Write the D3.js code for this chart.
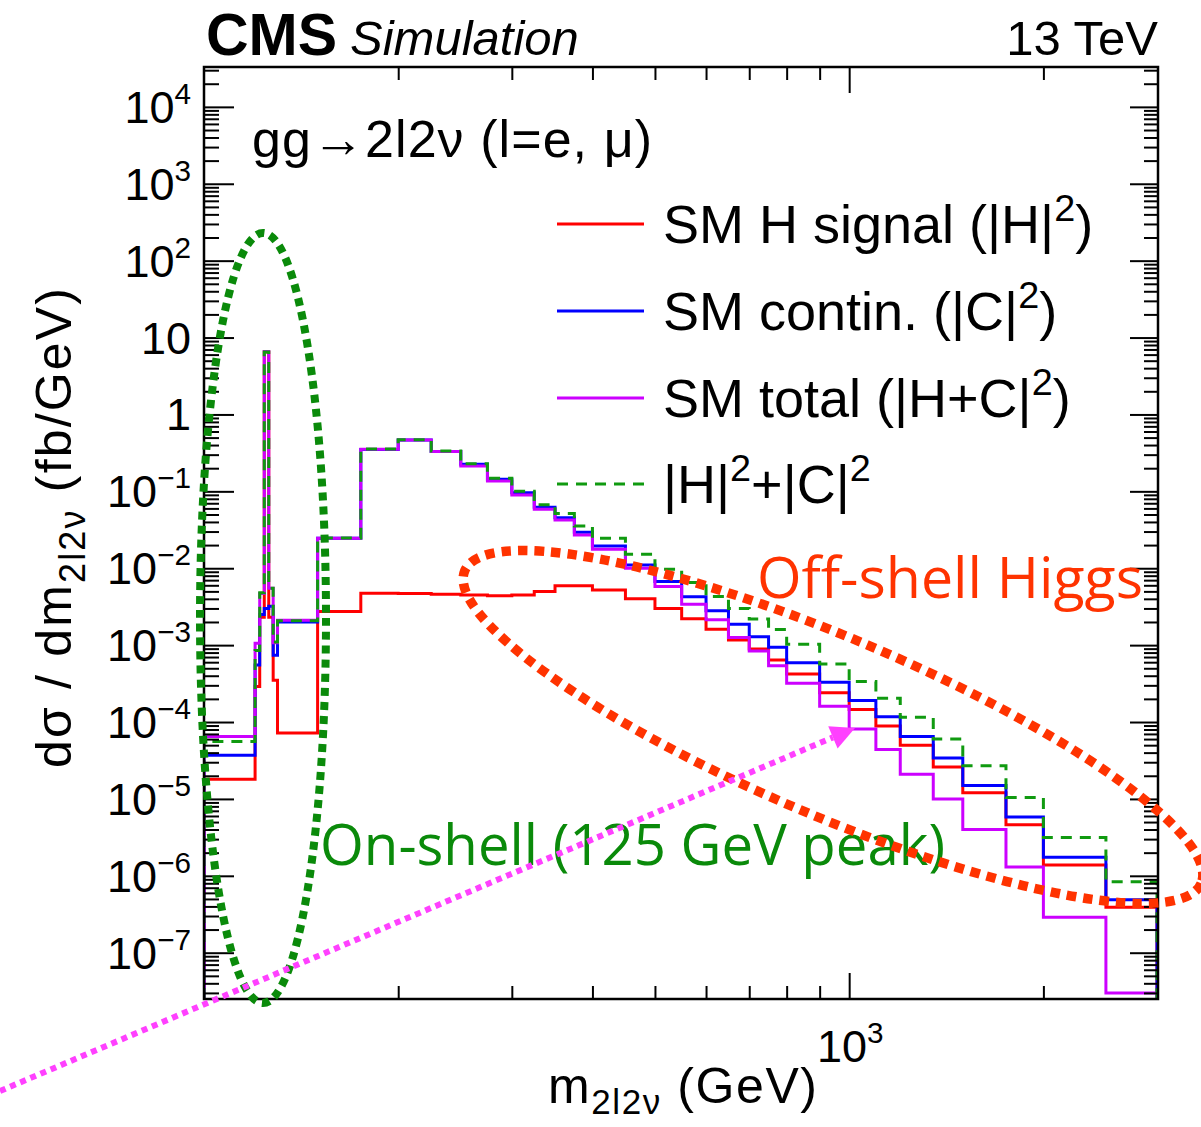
<!DOCTYPE html>
<html>
<head>
<meta charset="utf-8">
<script src="https://cdn.jsdelivr.net/npm/d3@7"></script>
<style>
  html, body { margin: 0; padding: 0; background: #fff; }
  svg text { font-family: "Liberation Sans", Arial, Helvetica, sans-serif; fill: #000; }
</style>
</head>
<body>
<svg id="chart" width="1201" height="1127"></svg>
<script>
// Bin edges of the m(2l2nu) histograms (GeV)
const binEdges = [100, 120, 122, 124, 126, 128, 130, 150, 175, 200, 225, 250, 275, 300, 325, 350, 375, 400,
  450, 500, 550, 600, 650, 700, 750, 800, 900, 1000, 1100, 1200, 1350, 1500, 1750, 2000, 2500, 3000];

// d(sigma)/dm per bin (fb/GeV)
const smSignal = [1.8e-5, 2.9e-4, 2.3e-3, 6.5, 2.3e-3, 3.5e-4, 7.2e-5, 2.74e-3, 4.73e-3, 4.7e-3, 4.6e-3,
  4.5e-3, 4.4e-3, 4.5e-3, 5.0e-3, 5.9e-3, 5.9e-3, 5.2e-3, 4.0e-3, 3.0e-3, 2.2e-3, 1.61e-3, 1.17e-3, 8.9e-4,
  6.4e-4, 4.2e-4, 2.4e-4, 1.45e-4, 8.9e-5, 5.0e-5, 2.6e-5, 1.2e-5, 4.6e-6, 1.38e-6, 3.9e-7];

const smContinuum = [3.7e-5, 5.5e-4, 2.5e-3, 3.0e-3, 3.2e-3, 7.4e-4, 2.0e-3, 2.45e-2, 0.35, 0.466, 0.33,
  0.225, 0.144, 0.096, 0.062, 0.0455, 0.0294, 1.94e-2, 1.1e-2, 6.7e-3, 4.27e-3, 2.79e-3, 1.87e-3, 1.29e-3,
  9.4e-4, 5.9e-4, 3.3e-4, 1.9e-4, 1.17e-4, 6.5e-5, 3.4e-5, 1.5e-5, 5.8e-6, 1.74e-6, 4.9e-7];

const smTotal = [6.5e-5, 1.06e-3, 4.7e-3, 6.6, 5.5e-3, 1.07e-3, 2.1e-3, 2.45e-2, 0.352, 0.466, 0.329,
  0.214, 0.136, 0.0897, 0.0585, 0.0425, 0.0271, 1.77e-2, 1.0e-2, 5.8e-3, 3.4e-3, 2.14e-3, 1.26e-3, 8.4e-4,
  5.4e-4, 3.2e-4, 1.6e-4, 8.1e-5, 4.4e-5, 2.1e-5, 1.0e-5, 4.0e-6, 1.3e-6, 2.9e-7, 3.0e-8];

const signalPlusContinuum = [5.6e-5, 8.5e-4, 4.8e-3, 6.5, 5.5e-3, 1.1e-3, 2.07e-3, 2.48e-2, 0.355, 0.47, 0.335,
  0.229, 0.148, 0.1005, 0.067, 0.0515, 0.0354, 2.45e-2, 1.52e-2, 9.7e-3, 6.5e-3, 4.3e-3, 3.0e-3, 2.18e-3,
  1.6e-3, 1.03e-3, 5.7e-4, 3.37e-4, 2.04e-4, 1.15e-4, 6.0e-5, 2.7e-5, 1.04e-5, 3.15e-6, 8.4e-7];

// Axis ticks
const yTickExponents = [4, 3, 2, 1, 0, -1, -2, -3, -4, -5, -6, -7];
const xMinorTicks = [200, 300, 400, 500, 600, 700, 800, 900, 2000];
const xMajorTicks = [1000];

// Legend entries, in drawing order
const legendLabels = [
  [["SM H signal (|H|"], ["2", "sup"], [")"]],
  [["SM contin. (|C|"], ["2", "sup"], [")"]],
  [["SM total (|H+C|"], ["2", "sup"], [")"]],
  [["|H|"], ["2", "sup"], ["+|C|"], ["2", "sup"]]
];

const seriesList = [
  { values: smSignal,            color: "#ff0000", dash: null },
  { values: smContinuum,         color: "#0000ff", dash: null },
  { values: smTotal,             color: "#cc00ff", dash: null },
  { values: signalPlusContinuum, color: "#109a10", dash: "11 8" }
];

const frame = { left: 204, right: 1158, top: 67, bottom: 999 };
const svg = d3.select("#chart");

const x = d3.scaleLog().domain([100, 3000]).range([frame.left, 1157]);
const y = d3.scaleLog().domain([2.5e-8, 3.3e4]).range([frame.bottom, frame.top]);

// rich text helper: parts = [[text], [text,"sup"], [text,"sub"]]
function richText(sel, parts, size, supScale = 0.62, supRaise = 0.42, subDrop = 0.28) {
  let shift = 0;
  parts.forEach(([t, kind]) => {
    const ts = sel.append("tspan").text(t);
    let target = 0;
    if (kind === "sup") { target = -supRaise * size; ts.attr("font-size", size * supScale); }
    else if (kind === "sub") { target = subDrop * size; ts.attr("font-size", size * supScale); }
    ts.attr("dy", target - shift);
    shift = target;
  });
  return sel;
}

// ---- histograms ----
svg.append("clipPath").attr("id", "plotClip").append("rect")
  .attr("x", frame.left).attr("y", frame.top)
  .attr("width", frame.right - frame.left).attr("height", frame.bottom - frame.top);

const line = d3.line().x(d => x(d[0])).y(d => y(d[1]));
const yFloor = y.domain()[0];

function stepPoints(vals) {
  const pts = [[binEdges[0], yFloor]];
  vals.forEach((v, i) => { pts.push([binEdges[i], v]); pts.push([binEdges[i + 1], v]); });
  pts.push([binEdges[binEdges.length - 1], yFloor]);
  return pts;
}

const histG = svg.append("g").attr("clip-path", "url(#plotClip)");
seriesList.forEach(s => {
  histG.append("path")
    .attr("d", line(stepPoints(s.values)))
    .attr("fill", "none")
    .attr("stroke", s.color)
    .attr("stroke-width", 3)
    .attr("stroke-dasharray", s.dash)
    .attr("stroke-linejoin", "miter");
});

// ---- frame and ticks ----
const yMajors = yTickExponents.map(e => Math.pow(10, e));
const yMinors = [];
for (let e = -8; e <= 4; e++) {
  for (let k = 2; k <= 9; k++) {
    const v = k * Math.pow(10, e);
    if (v >= y.domain()[0] && v <= y.domain()[1]) yMinors.push(v);
  }
}

function tickGroup(axis, tx, ty) {
  const g = svg.append("g").attr("transform", `translate(${tx},${ty})`).call(axis);
  g.select(".domain").remove();
  g.selectAll(".tick line").attr("stroke", "#000").attr("stroke-width", 2);
  g.selectAll(".tick text").remove();
  return g;
}

tickGroup(d3.axisLeft(y).tickValues(yMajors).tickSize(-30).tickFormat(""), frame.left, 0);
tickGroup(d3.axisLeft(y).tickValues(yMinors).tickSize(-15).tickFormat(""), frame.left, 0);
tickGroup(d3.axisRight(y).tickValues(yMajors).tickSize(-28).tickFormat(""), frame.right, 0);
tickGroup(d3.axisRight(y).tickValues(yMinors).tickSize(-14).tickFormat(""), frame.right, 0);
tickGroup(d3.axisBottom(x).tickValues(xMajorTicks).tickSize(-26).tickFormat(""), 0, frame.bottom);
tickGroup(d3.axisBottom(x).tickValues(xMinorTicks).tickSize(-13).tickFormat(""), 0, frame.bottom);
tickGroup(d3.axisTop(x).tickValues(xMajorTicks).tickSize(-26).tickFormat(""), 0, frame.top);
tickGroup(d3.axisTop(x).tickValues(xMinorTicks).tickSize(-13).tickFormat(""), 0, frame.top);

svg.append("rect")
  .attr("x", frame.left).attr("y", frame.top)
  .attr("width", frame.right - frame.left).attr("height", frame.bottom - frame.top)
  .attr("fill", "none").attr("stroke", "#000").attr("stroke-width", 2.5);

// y tick labels
const tickFont = 45;
yTickExponents.forEach(e => {
  const t = svg.append("text")
    .attr("x", 191).attr("y", y(Math.pow(10, e)) + 0.355 * tickFont)
    .attr("text-anchor", "end").attr("font-size", tickFont);
  if (e === 0) richText(t, [["1"]], tickFont);
  else if (e === 1) richText(t, [["10"]], tickFont);
  else richText(t, [["10"], [e < 0 ? "\u2212" + (-e) : String(e), "sup"]], tickFont, 0.66);
});

// x tick label (10^3)
xMajorTicks.forEach(v => {
  const t = svg.append("text")
    .attr("x", x(v) + 1).attr("y", 1062)
    .attr("text-anchor", "middle").attr("font-size", tickFont);
  richText(t, [["10"], [String(Math.round(Math.log10(v))), "sup"]], tickFont, 0.66);
});

// axis titles
const xTitle = svg.append("text").attr("x", 548).attr("y", 1103)
  .attr("font-size", 50)
  .attr("textLength", 269).attr("lengthAdjust", "spacing");
richText(xTitle, [["m"], ["2l2\u03bd", "sub"], [" (GeV)"]], 50, 0.7, 0.42, 0.22);

const yTitle = svg.append("text")
  .attr("transform", "translate(71,768) rotate(-90)")
  .attr("font-size", 50)
  .attr("textLength", 480).attr("lengthAdjust", "spacing");
richText(yTitle, [["d\u03c3 / dm"], ["2l2\u03bd", "sub"], [" (fb/GeV)"]], 50, 0.72);

// header
svg.append("text").attr("x", 206).attr("y", 55).attr("font-size", 59).attr("font-weight", "bold").text("CMS");
svg.append("text").attr("x", 350).attr("y", 55).attr("font-size", 49).attr("font-style", "italic").text("Simulation");
svg.append("text").attr("x", 1158).attr("y", 55).attr("font-size", 49).attr("text-anchor", "end").text("13 TeV");

// process label
svg.append("text").attr("x", 252).attr("y", 157).attr("font-size", 52)
  .attr("textLength", 400).attr("lengthAdjust", "spacing")
  .text("gg\u21922l2\u03bd (l=e, \u03bc)");

// legend
const legendRowY = [224, 311, 398, 484];
seriesList.forEach((s, i) => {
  svg.append("line")
    .attr("x1", 557).attr("x2", 644)
    .attr("y1", legendRowY[i]).attr("y2", legendRowY[i])
    .attr("stroke", s.color).attr("stroke-width", 3)
    .attr("stroke-dasharray", s.dash);
  const t = svg.append("text").attr("x", 663).attr("y", legendRowY[i] + 19).attr("font-size", 54);
  richText(t, legendLabels[i], 54, 0.7, 0.4);
});

// ---- annotations ----
const ann = svg.append("g");

ann.append("text")
  .attr("x", 320).attr("y", 865)
  .attr("font-size", 56)
  .attr("textLength", 625).attr("lengthAdjust", "spacingAndGlyphs")
  .style("font-family", "'Open Sans', 'Noto Sans', sans-serif")
  .style("fill", "#0a8a0a")
  .text("On-shell (125 GeV peak)");

ann.append("text")
  .attr("x", 757).attr("y", 598)
  .attr("font-size", 57)
  .attr("textLength", 386).attr("lengthAdjust", "spacingAndGlyphs")
  .style("font-family", "'Open Sans', 'Noto Sans', sans-serif")
  .style("fill", "#ff3300")
  .text("Off-shell Higgs");

// on-shell region marker
ann.append("ellipse")
  .attr("cx", 263).attr("cy", 618).attr("rx", 63).attr("ry", 385)
  .attr("fill", "none").attr("stroke", "#0a8a0a")
  .attr("stroke-width", 8).attr("stroke-dasharray", "8 6");

// off-shell region marker
ann.append("ellipse")
  .attr("cx", 0).attr("cy", 0).attr("rx", 400).attr("ry", 89)
  .attr("transform", "translate(833,727) rotate(23)")
  .attr("fill", "none").attr("stroke", "#ff3300")
  .attr("stroke-width", 9.5).attr("stroke-dasharray", "9.5 7");

// dotted arrow
const arrowStart = [0, 1091], arrowTip = [855, 728];
const dx = arrowTip[0] - arrowStart[0], dy = arrowTip[1] - arrowStart[1];
const len = Math.hypot(dx, dy), ux = dx / len, uy = dy / len;
const headLen = 24, headHalf = 12;
const base = [arrowTip[0] - ux * headLen, arrowTip[1] - uy * headLen];
ann.append("line")
  .attr("x1", arrowStart[0]).attr("y1", arrowStart[1])
  .attr("x2", base[0]).attr("y2", base[1])
  .attr("stroke", "#ff40ff").attr("stroke-width", 6).attr("stroke-dasharray", "6 5");
ann.append("path")
  .attr("d", `M${arrowTip[0]},${arrowTip[1]}L${base[0] - uy * headHalf},${base[1] + ux * headHalf}L${base[0] + uy * headHalf},${base[1] - ux * headHalf}Z`)
  .attr("fill", "#ff40ff");
</script>
</body>
</html>
